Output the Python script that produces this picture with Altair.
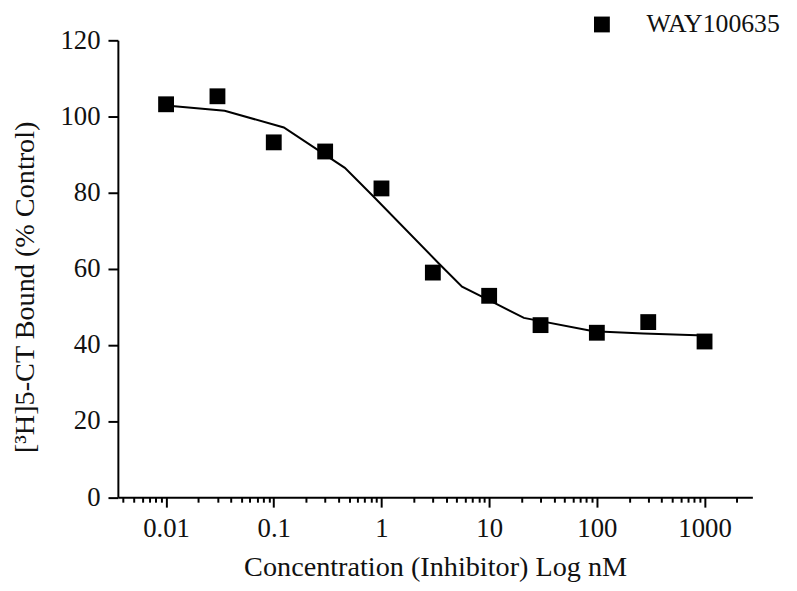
import altair as alt
import pandas as pd

# ---- data ----
conc = [0.01, 0.03, 0.1, 0.3, 1, 3, 10, 30, 100, 300, 1000]
bound = [103.2, 105.3, 93.2, 90.8, 81.1, 59.0, 52.9, 45.2, 43.2, 46.0, 40.9]
fit_conc = [0.01, 0.035, 0.124, 0.457, 0.834, 3.41, 5.6, 10.6, 21, 93, 270, 1000]
fit_bound = [102.9, 101.5, 97.1, 86.5, 79.1, 61.4, 55.3, 51.4, 47.1, 43.6, 43.0, 42.5]
series_name = "WAY100635"

x_decades = [0.01, 0.1, 1, 10, 100, 1000]
x_domain = [0.003568, 2780]
x_ticks = [round(k * 10.0 ** e, 6) for e in range(-3, 4) for k in range(1, 10)]
x_ticks = [v for v in x_ticks if x_domain[0] <= v <= x_domain[1]]
y_ticks = list(range(0, 121, 10))

FONT = "Liberation Serif"

pts = pd.DataFrame({"conc": conc, "bound": bound, "series": [series_name] * len(conc)})
fit = pd.DataFrame({"conc": fit_conc, "bound": fit_bound})

dec_list = "[" + ",".join(str(v) for v in x_decades) + "]"
is_decade = f"indexof({dec_list}, datum.value) >= 0"

x_scale = alt.Scale(type="log", domain=x_domain, nice=False)
y_scale = alt.Scale(domain=[0, 120], nice=False, zero=False)

x_axis = alt.Axis(
    values=x_ticks,
    format="~g",
    labelExpr=f"{is_decade} ? datum.label : ''",
    tickSize={"condition": {"test": is_decade, "value": 10}, "value": 5},
    labelPadding=9,
    labelFontSize=27,
    labelFont=FONT,
    labelOverlap=False,
    labelFlush=False,
    title="Concentration (Inhibitor) Log nM",
    titleFont=FONT,
    titleFontSize=28.5,
    titleFontWeight="normal",
    titleBaseline="alphabetic",
    titleY=79,
    grid=False,
)
y_axis = alt.Axis(
    values=y_ticks,
    format="d",
    labelExpr="datum.value % 20 === 0 ? datum.label : ''",
    tickSize={"condition": {"test": "datum.value % 20 === 0", "value": 10}, "value": 5},
    labelPadding=8,
    labelFontSize=27,
    labelFont=FONT,
    labelOverlap=False,
    labelFlush=False,
    title="[³H]5-CT Bound (% Control)",
    titleFont=FONT,
    titleFontSize=28.5,
    titleFontWeight="normal",
    titleAngle=270,
    titleAlign="center",
    titleBaseline="middle",
    titleX=-94,
    titleY=249,
    grid=False,
)

line = alt.Chart(fit).mark_line(color="black", strokeWidth=2).encode(
    x=alt.X("conc:Q", scale=x_scale, axis=x_axis),
    y=alt.Y("bound:Q", scale=y_scale, axis=y_axis),
)

points = alt.Chart(pts).mark_square(size=256, opacity=1).encode(
    x=alt.X("conc:Q", scale=x_scale),
    y=alt.Y("bound:Q", scale=y_scale),
    color=alt.Color(
        "series:N",
        scale=alt.Scale(domain=[series_name], range=["black"]),
        legend=alt.Legend(
            title=None,
            orient="none",
            legendX=476,
            legendY=-29,
            padding=0,
            symbolType="square",
            symbolSize=256,
            symbolStrokeWidth=0,
            labelFont=FONT,
            labelFontSize=26,
            labelColor="#111111",
            labelOffset=32,
            labelLimit=400,
        ),
    ),
)

chart = (
    alt.layer(line, points)
    .properties(
        width=641,
        height=461.6,
        padding={"left": 111, "top": 29.7, "right": 37, "bottom": 83.7},
        autosize="none",
        background="white",
    )
    .configure_view(stroke=None)
    .configure_axis(
        domainColor="black",
        domainWidth=2,
        tickColor="black",
        tickWidth=2,
        labelColor="#111111",
        titleColor="#111111",
    )
)

chart.save("out.html", embed_options={"renderer": "svg", "actions": False})
